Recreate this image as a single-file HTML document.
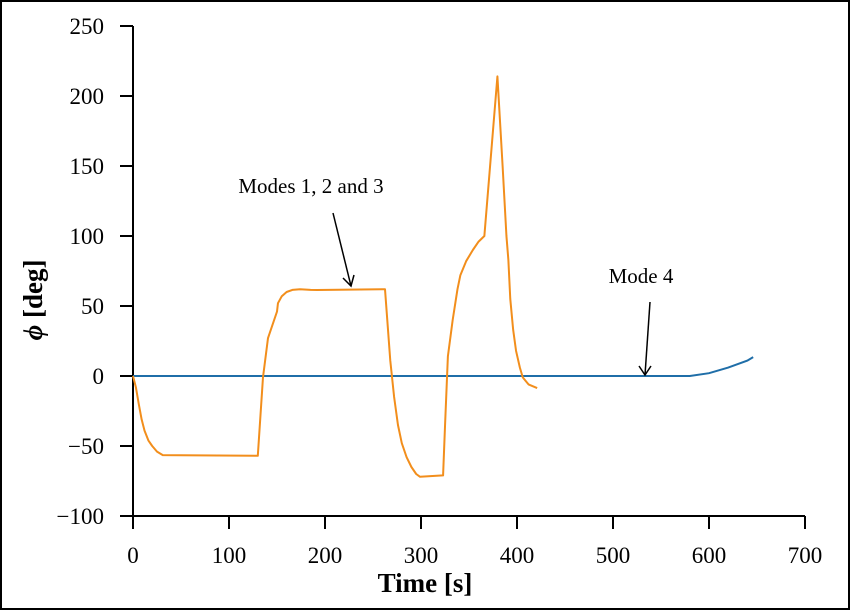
<!DOCTYPE html>
<html><head><meta charset="utf-8"><style>
body{margin:0;background:#fff}
svg{display:block;font-family:"Liberation Serif",serif}
</style></head><body>
<svg width="850" height="610">
<rect x="1" y="1" width="848" height="608" fill="#fff" stroke="#000" stroke-width="2"/>
<g id="axes"></g>
<g id="series"></g>
<text x="425" y="592" text-anchor="middle" font-size="27" font-weight="bold">Time [s]</text>
<text transform="translate(42,300) rotate(-90)" text-anchor="middle" font-size="27" font-weight="bold"><tspan font-style="italic">ϕ</tspan> [deg]</text>
<text x="311" y="193" text-anchor="middle" font-size="21">Modes 1, 2 and 3</text>
<text x="641" y="283" text-anchor="middle" font-size="21">Mode 4</text>
<g stroke="#000" stroke-width="1.5" fill="none">
<line x1="333" y1="213" x2="351" y2="286"/>
<polyline points="343,278 351,286 354,275"/>
<line x1="650" y1="302" x2="645" y2="375"/>
<polyline points="639,366 645,375 651,366"/>
</g>
</svg>
<script>
const xTicks=[0,100,200,300,400,500,600,700];
const yTicks=[-100,-50,0,50,100,150,200,250];
const modes123T=[0,3,6,9,12,16,20,25,31,130,135.4,140.6,150,151,155,160,166,174,185,191.7,262.5,268,272,276,280,285,290,295,299,323,325,328,333,338,341,347,354,360,366,379.6,385,389,391,393,396,399,403,406,412,421];
const modes123Phi=[0,-8,-20,-31,-39,-46,-50,-54,-56.5,-57,-1,27,46,52,57,60,61.5,62,61.5,61.4,62,11,-15,-35,-48,-58,-65,-70,-72,-71,-36,14,40,62,72,82,90,96,100,214,150,100,83,55,33,18,6,-1,-6,-8.6];
const mode4T=[0,580,600,620,640,646];
const mode4Phi=[0,0,2,6,11,13.5];
const X=t=>133+t*(805-133)/700;
const Y=v=>376-v*70/50;
const ns="http://www.w3.org/2000/svg";
function mk(tag,attrs,parent){const e=document.createElementNS(ns,tag);for(const k in attrs)e.setAttribute(k,attrs[k]);parent.appendChild(e);return e;}
const ax=document.getElementById('axes');
let l=mk('line',{x1:133,y1:Y(250),x2:133,y2:Y(-100),stroke:'#000','stroke-width':2},ax);


l=mk('line',{x1:133,y1:Y(-100),x2:X(700),y2:Y(-100),stroke:'#000','stroke-width':2},ax);


yTicks.forEach(v=>{
 const t=mk('line',{x1:120,x2:133,y1:Y(v),y2:Y(v),stroke:'#000','stroke-width':2},ax);
 
 
 const tx=mk('text',{x:104,y:Y(v)+8,'text-anchor':'end','font-size':23},ax);
 tx.textContent=v<0?'\u2212'+(-v):String(v);
 
 
});
xTicks.forEach(v=>{
 const t=mk('line',{x1:X(v),x2:X(v),y1:Y(-100),y2:Y(-100)+13,stroke:'#000','stroke-width':2},ax);
 
 
 const tx=mk('text',{x:X(v),y:563,'text-anchor':'middle','font-size':23},ax);
 tx.textContent=String(v);
 
 
});
const se=document.getElementById('series');
const pb=mk('polyline',{points:mode4T.map((t,i)=>X(t)+','+Y(mode4Phi[i])).join(' '),fill:'none',stroke:'#1f6ea8','stroke-width':2},se);


const po=mk('polyline',{points:modes123T.map((t,i)=>X(t)+','+Y(modes123Phi[i])).join(' '),fill:'none',stroke:'#f28e1c','stroke-width':2,'stroke-linejoin':'round'},se);


</script>
</body></html>
